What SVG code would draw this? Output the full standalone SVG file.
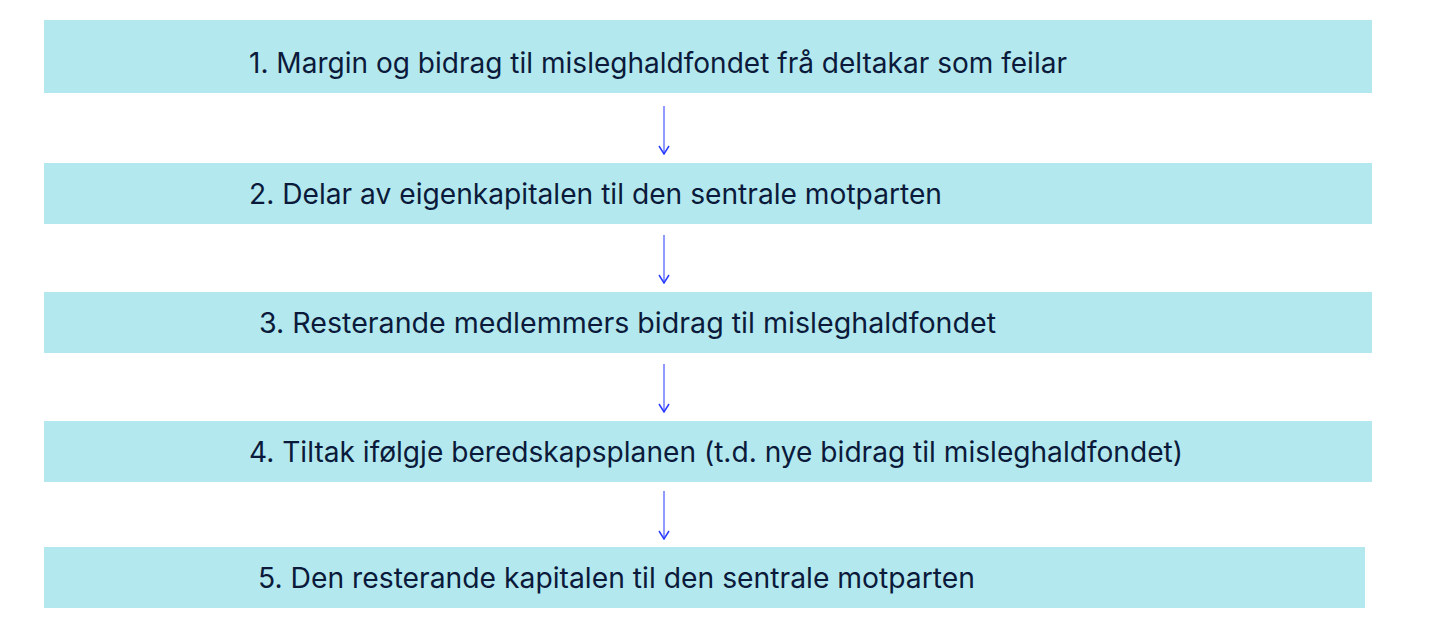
<svg xmlns="http://www.w3.org/2000/svg" width="1445" height="623" viewBox="0 0 1445 623">
<style>
.box{fill:#b3e9ee}
.lbl{font-family:Inter,"Noto Sans",sans-serif;font-size:28px;fill:#0b1a3b}
.arr{stroke:#6b78ff;stroke-width:1.5;fill:none}
</style>
<defs>
<marker id="ah" markerWidth="10" markerHeight="12" refX="9" refY="6" orient="auto" markerUnits="userSpaceOnUse" viewBox="0 0 10 12">
<path d="M1,1 L9,6 L1,11" fill="none" stroke="#2a3cff" stroke-width="1.5"/>
</marker>
</defs>
<rect width="1445" height="623" fill="#ffffff"/>
<g id="node1"><rect class="box" x="44" y="20" width="1328" height="73"/><text class="lbl" x="249" y="73" textLength="818" lengthAdjust="spacingAndGlyphs">1. Margin og bidrag til misleghaldfondet frå deltakar som feilar</text></g>
<g id="node2"><rect class="box" x="44" y="163" width="1328" height="61"/><text class="lbl" x="249" y="204" textLength="693" lengthAdjust="spacingAndGlyphs">2. Delar av eigenkapitalen til den sentrale motparten</text></g>
<g id="node3"><rect class="box" x="44" y="292" width="1328" height="61"/><text class="lbl" x="259" y="333" textLength="737" lengthAdjust="spacingAndGlyphs">3. Resterande medlemmers bidrag til misleghaldfondet</text></g>
<g id="node4"><rect class="box" x="44" y="421" width="1328" height="61"/><text class="lbl" x="249" y="462" textLength="934" lengthAdjust="spacingAndGlyphs">4. Tiltak ifølgje beredskapsplanen (t.d. nye bidrag til misleghaldfondet)</text></g>
<g id="node5"><rect class="box" x="44" y="547" width="1321" height="61"/><text class="lbl" x="258" y="588" textLength="717" lengthAdjust="spacingAndGlyphs">5. Den resterande kapitalen til den sentrale motparten</text></g>
<g id="connectors">
<line class="arr" x1="664" y1="106" x2="664" y2="154" marker-end="url(#ah)"/>
<line class="arr" x1="664" y1="235" x2="664" y2="283" marker-end="url(#ah)"/>
<line class="arr" x1="664" y1="364" x2="664" y2="412" marker-end="url(#ah)"/>
<line class="arr" x1="664" y1="491" x2="664" y2="539" marker-end="url(#ah)"/>
</g>
</svg>
